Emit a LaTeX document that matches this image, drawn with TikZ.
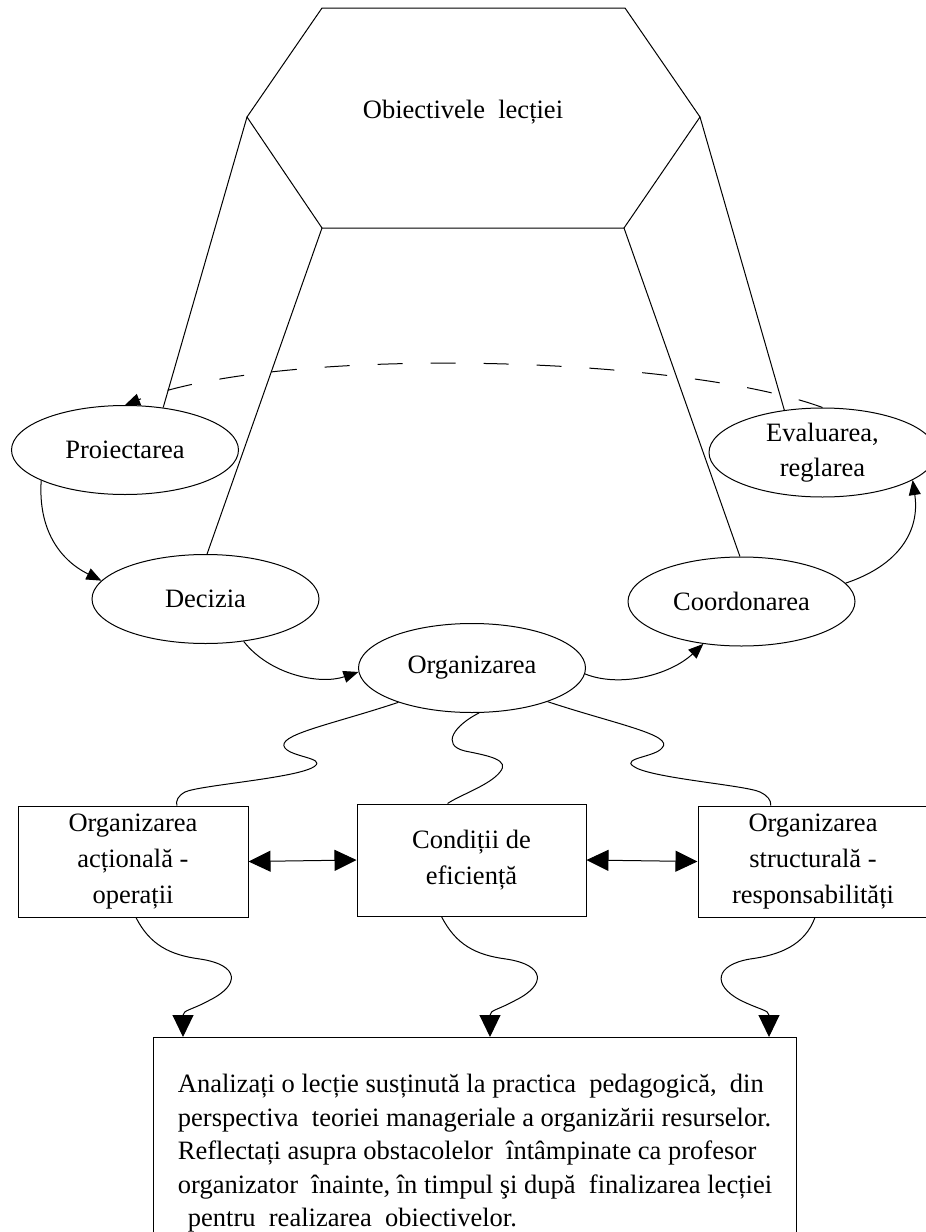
\documentclass[tikz,border=0pt]{standalone}
\usepackage{fontspec}
\setmainfont{Liberation Serif}
\usetikzlibrary{shapes.geometric,arrows.meta,calc}

\tikzset{
  elipsa/.style={draw, ellipse, minimum width=113.5pt, minimum height=44.5pt, inner sep=0pt, align=center},
  cutie/.style={draw, rectangle, minimum width=115pt, minimum height=55.5pt, inner sep=0pt, align=center},
  sageata/.style={-{Triangle[length=7.5pt,width=6pt]}},
  dublu/.style={{Triangle[length=11pt,width=10.5pt]}-{Triangle[length=11pt,width=10.5pt]}},
  unda/.style={-{Triangle[length=11pt,width=10.5pt]}}
}

\begin{document}
\begin{tikzpicture}[x=0.5pt, y=-0.5pt, line width=0.5pt, font=\fontsize{13.25pt}{17.8pt}\selectfont]
\useasboundingbox (0,0) rectangle (926,1232);
\clip (0,0) rectangle (926,1232);

% Esagono degli obiettivi
\coordinate (hs) at (247,117);
\coordinate (hsj) at (322,228);
\coordinate (hd) at (700,117);
\coordinate (hdj) at (624,228);
\draw (hs) -- (322,8) -- (625,8) -- (hd) -- (hdj) -- (hsj) -- cycle;
\node (obiective) at (463,112) {Obiectivele\ \ lecției};

% Ellissi delle funzioni
\node[elipsa] (proi) at (125,450) {Proiectarea};
\node[elipsa] (dec) at (205.5,599) {Decizia};
\node[elipsa] (org) at (472,668) {Organizarea};
\node[elipsa] (coord) at (741.5,601.5) {Coordonarea};
\node[elipsa] (eval) at (822.5,452.5) {Evaluarea,\\reglarea};

% Linee dall'esagono
\draw (hs) -- (proi.48);
\draw (hsj) -- (dec.88);
\draw (hd) -- (eval.132);
\draw (hdj) -- (coord.92);

% Frecce tra le ellissi
\draw[sageata] (proi.200) .. controls (38,530) and (60,560) .. (dec.170);
\draw[sageata] (dec.-48) .. controls (270,675) and (320,685) .. (org.182);
\draw[sageata] (org.-3) .. controls (620,688) and (670,675) .. (coord.228);
\draw[sageata] (coord.10) .. controls (900,565) and (920,530) .. (eval.-17);
\draw[sageata, dash pattern=on 12.5pt off 14pt] (eval.north) .. controls (680,355) and (280,345) .. (proi.north);

% Riquadri
\node[cutie] (stanga) at (133,861.5) {Organizarea\\acțională -\\operații};
\node[cutie, minimum width=114.5pt, minimum height=56pt] (centru) at (471.5,860) {Condiții de\\eficiență};
\node[cutie] (dreapta) at (813,861.5) {Organizarea\\structurală -\\responsabilități};

\draw[dublu] (stanga.east) -- (centru.west);
\draw[dublu] (centru.east) -- (dreapta.west);

% Riquadro finale
\node[draw, anchor=north west, minimum width=321.5pt, align=left, inner xsep=6pt, inner ysep=18.5pt,
      font=\fontsize{13.25pt}{16.7pt}\selectfont] (tema) at (153,1037)
  {Analizați o lecție susținută la practica\ \ pedagogică,\ \ din\\
   perspectiva\ \ teoriei manageriale a organizării resurselor.\\
   Reflectați asupra obstacolelor\ \ întâmpinate ca profesor\\
   organizator\ \ înainte, în timpul şi după\ \ finalizarea lecției\\
   \hspace{5pt}pentru\ \ realizarea\ \ obiectivelor.};

% Linee ondulate verso i riquadri
\draw (org.205) .. controls (330,725) and (275,735) .. (285,748)
  .. controls (292,757) and (325,758) .. (315,766)
  .. controls (300,778) and (200,785) .. (185,792)
  .. controls (178,796) and (176,800) .. (stanga.52);
\draw (org.-81) .. controls (455,725) and (440,745) .. (465,751)
  .. controls (490,756) and (510,760) .. (500,772)
  .. controls (490,785) and (460,795) .. (centru.113);
\draw (org.-24) .. controls (615,724) and (675,735) .. (662,748)
  .. controls (655,757) and (622,758) .. (633,766)
  .. controls (648,778) and (745,785) .. (760,792)
  .. controls (768,796) and (771,800) .. (dreapta.127);

% Linee ondulate verso il compito
\draw[unda] (stanga.-87) .. controls (150,945) and (170,955) .. (200,959)
  .. controls (240,965) and (240,985) .. (210,1000)
  .. controls (192,1010) and (183,1010) .. ($(tema.north west)+(30,0)$);
\draw[unda] (centru.-118) .. controls (456,945) and (476,955) .. (506,959)
  .. controls (546,965) and (546,985) .. (516,1000)
  .. controls (498,1010) and (490,1010) .. ($(tema.north west)+(337,0)$);
\draw[unda] (dreapta.-88) .. controls (805,945) and (780,955) .. (750,959)
  .. controls (715,965) and (712,985) .. (740,1000)
  .. controls (760,1010) and (769,1010) .. ($(tema.north west)+(616,0)$);

\end{tikzpicture}
\end{document}
